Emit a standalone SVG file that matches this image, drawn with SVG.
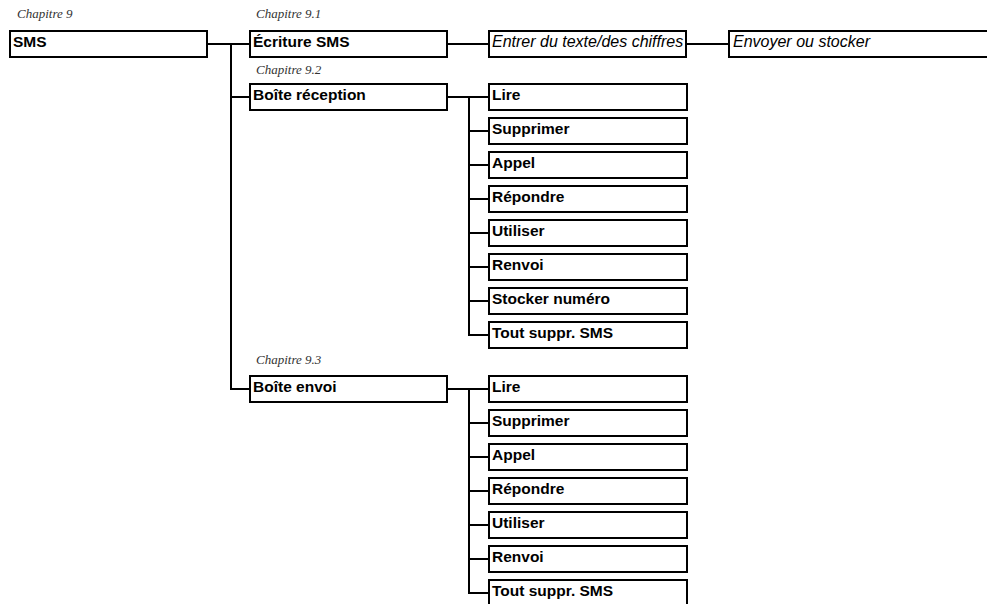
<svg xmlns="http://www.w3.org/2000/svg" width="987" height="604" viewBox="0 0 987 604">
<style>
.box{fill:#fff;stroke:#000;stroke-width:2}
.t{font-family:"Liberation Sans",Arial,sans-serif;font-size:15.5px;font-weight:bold;fill:#000}
.ti{font-family:"Liberation Sans",Arial,sans-serif;font-size:16px;font-style:italic;fill:#000}
.ch{font-family:"Liberation Serif","Times New Roman",serif;font-size:13px;font-style:italic;fill:#333}
.c{stroke:#000;stroke-width:2;fill:none}
</style>
<rect width="987" height="604" fill="#fff"/>
<g id="chapters">
<text class="ch" x="17" y="18">Chapitre 9</text>
<text class="ch" x="256" y="18">Chapitre 9.1</text>
<text class="ch" x="256" y="74">Chapitre 9.2</text>
<text class="ch" x="256" y="364">Chapitre 9.3</text>
</g>
<g id="connectors">
<path class="c" d="M207 44H231M231 43V389H250M231 44H250M231 97H250"/>
<path class="c" d="M447 44H489M686 44H729"/>
<path class="c" d="M447 97H469M469 96V336M468 97H489M468 131H489M468 165H489M468 199H489M468 233H489M468 267H489M468 301H489M468 335H489"/>
<path class="c" d="M447 389H469M469 388V594M468 389H489M468 423H489M468 457H489M468 491H489M468 525H489M468 559H489M468 593H489"/>
</g>
<g id="n-sms"><rect class="box" x="10" y="31" width="197" height="26"/><text class="t" x="13" y="47">SMS</text></g>
<g id="n-ecriture"><rect class="box" x="250" y="31" width="197" height="26"/><text class="t" x="253" y="47">Écriture SMS</text></g>
<g id="n-entrer"><rect class="box" x="489" y="31" width="197" height="26"/><text class="ti" x="492" y="47">Entrer du texte/des chiffres</text></g>
<g id="n-envoyer"><rect class="box" x="729" y="31" width="280" height="26"/><text class="ti" x="733" y="47">Envoyer ou stocker</text></g>
<g id="n-reception"><rect class="box" x="250" y="84" width="197" height="26"/><text class="t" x="253" y="100">Boîte réception</text></g>
<g id="n-r-lire"><rect class="box" x="489" y="84" width="198" height="26"/><text class="t" x="492" y="100">Lire</text></g>
<g id="n-r-supprimer"><rect class="box" x="489" y="118" width="198" height="26"/><text class="t" x="492" y="134">Supprimer</text></g>
<g id="n-r-appel"><rect class="box" x="489" y="152" width="198" height="26"/><text class="t" x="492" y="168">Appel</text></g>
<g id="n-r-repondre"><rect class="box" x="489" y="186" width="198" height="26"/><text class="t" x="492" y="202">Répondre</text></g>
<g id="n-r-utiliser"><rect class="box" x="489" y="220" width="198" height="26"/><text class="t" x="492" y="236">Utiliser</text></g>
<g id="n-r-renvoi"><rect class="box" x="489" y="254" width="198" height="26"/><text class="t" x="492" y="270">Renvoi</text></g>
<g id="n-r-stocker"><rect class="box" x="489" y="288" width="198" height="26"/><text class="t" x="492" y="304">Stocker numéro</text></g>
<g id="n-r-tout"><rect class="box" x="489" y="322" width="198" height="26"/><text class="t" x="492" y="338">Tout suppr. SMS</text></g>
<g id="n-envoi"><rect class="box" x="250" y="376" width="197" height="26"/><text class="t" x="253" y="392">Boîte envoi</text></g>
<g id="n-e-lire"><rect class="box" x="489" y="376" width="198" height="26"/><text class="t" x="492" y="392">Lire</text></g>
<g id="n-e-supprimer"><rect class="box" x="489" y="410" width="198" height="26"/><text class="t" x="492" y="426">Supprimer</text></g>
<g id="n-e-appel"><rect class="box" x="489" y="444" width="198" height="26"/><text class="t" x="492" y="460">Appel</text></g>
<g id="n-e-repondre"><rect class="box" x="489" y="478" width="198" height="26"/><text class="t" x="492" y="494">Répondre</text></g>
<g id="n-e-utiliser"><rect class="box" x="489" y="512" width="198" height="26"/><text class="t" x="492" y="528">Utiliser</text></g>
<g id="n-e-renvoi"><rect class="box" x="489" y="546" width="198" height="26"/><text class="t" x="492" y="562">Renvoi</text></g>
<g id="n-e-tout"><rect class="box" x="489" y="580" width="198" height="26"/><text class="t" x="492" y="596">Tout suppr. SMS</text></g>
</svg>
